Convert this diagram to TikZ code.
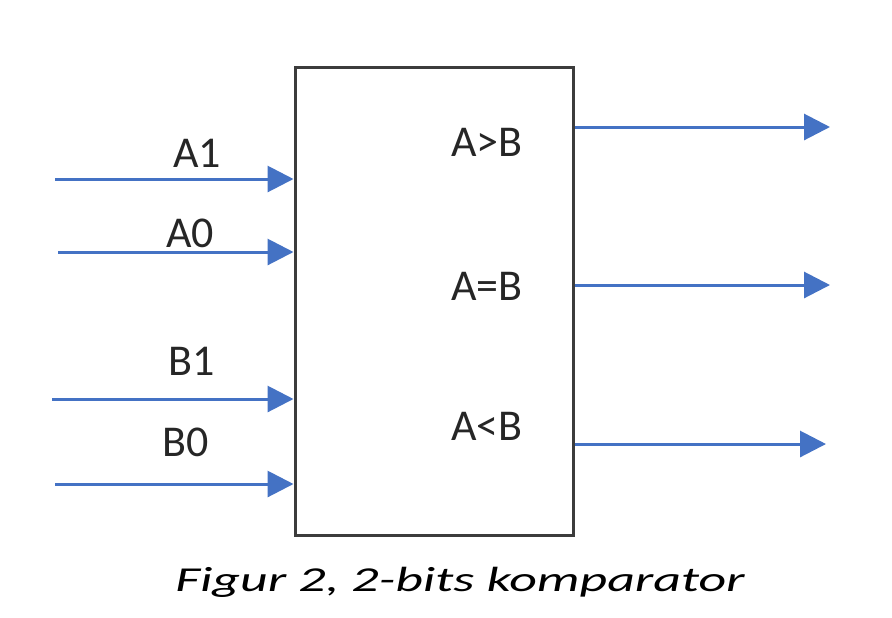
\documentclass[tikz,border=0pt]{standalone}
\usepackage{fontspec}
\setmainfont{Carlito}
\usetikzlibrary{arrows.meta}
\definecolor{sigblue}{RGB}{68,114,196}
\definecolor{boxgray}{RGB}{60,60,60}
\tikzset{
	signal/.style = {draw = sigblue, line width = 1.5pt, -{Triangle[length = 13pt, width = 13pt]}},
	pinlabel/.style = {font = \fontsize{22}{24}\selectfont, text = black!85},
}
\begin{document}
\begin{tikzpicture}[x = 0.5pt, y = -0.5pt]
	%	frame
	\useasboundingbox (0, 0) rectangle (892, 617);
	
	%	comparator box
	\node[draw = boxgray, line width = 1.5pt, minimum width = 139pt, minimum height = 234pt, inner sep = 0pt] (comp) at (434, 301) {};
	
	%	inputs
	\coordinate (a1in) at (55, 179);
	\coordinate (a0in) at (58, 252);
	\coordinate (b1in) at (52, 399);
	\coordinate (b0in) at (55, 484);
	\draw[signal] (a1in) -- (a1in -| comp.west);
	\draw[signal] (a0in) -- (a0in -| comp.west);
	\draw[signal] (b1in) -- (b1in -| comp.west);
	\draw[signal] (b0in) -- (b0in -| comp.west);
	\node[pinlabel] (a1lab) at (197, 153) {A1};
	\node[pinlabel] (a0lab) at (190, 233) {A0};
	\node[pinlabel] (b1lab) at (192, 361) {B1};
	\node[pinlabel] (b0lab) at (186, 442) {B0};
	
	%	outputs
	\coordinate (gtout) at (830, 127);
	\coordinate (eqout) at (830, 285);
	\coordinate (ltout) at (826, 444);
	\draw[signal] (gtout -| comp.east) -- (gtout);
	\draw[signal] (eqout -| comp.east) -- (eqout);
	\draw[signal] (ltout -| comp.east) -- (ltout);
	\node[pinlabel] (gtlab) at (487, 142) {A>B};
	\node[pinlabel] (eqlab) at (487, 286) {A=B};
	\node[pinlabel] (ltlab) at (487, 426) {A<B};
	
	%	caption
	\node[font = \fontsize{17.5}{19}\selectfont\itshape] (caption) at (460, 582) {\scalebox{1.54}[1]{Figur 2, 2-bits komparator}};
\end{tikzpicture}
\end{document}
